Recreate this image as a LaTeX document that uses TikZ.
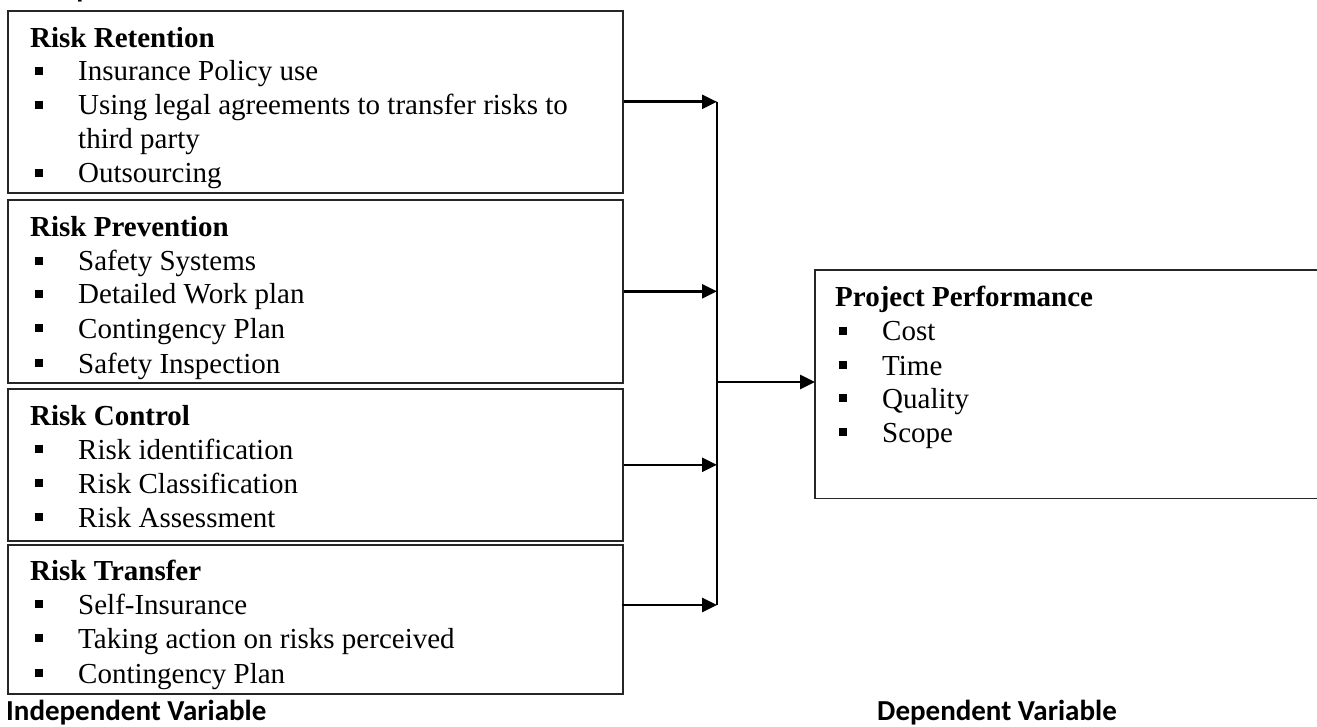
\documentclass[tikz,border=0pt]{standalone}
\usepackage{fontspec}
\setmainfont{Liberation Serif}
\newfontfamily\calib{Carlito}
\usetikzlibrary{arrows.meta}
\newcommand\sqbul{\makebox[44pt][l]{\hspace{1pt}\rule[6pt]{8pt}{8pt}}}
\begin{document}
\begin{tikzpicture}[x=1pt,y=-1pt,
  box/.style={draw=black!85, line width=1.6pt, inner sep=0pt, anchor=north west},
  conn/.style={line width=2.6pt},
  arr/.style={conn,-{Triangle[length=15pt,width=14pt]}},
  hd/.style={anchor=base west, inner sep=0pt, font=\fontsize{29}{34}\selectfont\bfseries},
  itm/.style={anchor=base west, inner sep=0pt, font=\fontsize{29}{34}\selectfont},
  lab/.style={anchor=base west, inner sep=0pt, font=\fontsize{29}{34}\selectfont\calib\bfseries}
]
\useasboundingbox (0,0) rectangle (1317,727);
% title (cut off at top)
\node[lab] (title) at (3,-2) {Conceptual Framework};
% boxes
\node[box, minimum width=615pt, minimum height=182pt] (B1) at (7,10) {};
\node[box, minimum width=615pt, minimum height=183pt] (B2) at (7,199) {};
\node[box, minimum width=615pt, minimum height=152pt] (B3) at (7,388) {};
\node[box, minimum width=615pt, minimum height=149pt] (B4) at (7,544) {};
% box 1
\begin{scope}
\clip (B1.north west) rectangle (B1.south east);
\node[hd] (h1) at (30,48) {Risk Retention};
\node[itm] (i11) at (34,81) {\sqbul Insurance Policy use};
\node[itm] (i12) at (34,115) {\sqbul Using legal agreements to transfer risks to};
\node[itm] (i13) at (78,149) {third party};
\node[itm] (i14) at (34,183) {\sqbul Outsourcing};
\end{scope}
% box 2
\begin{scope}
\clip (B2.north west) rectangle (B2.south east);
\node[hd] (h2) at (30,237) {Risk Prevention};
\node[itm] (i21) at (34,271) {\sqbul Safety Systems};
\node[itm] (i22) at (34,304) {\sqbul Detailed Work plan};
\node[itm] (i23) at (34,338) {\sqbul Contingency Plan};
\node[itm] (i24) at (34,373) {\sqbul Safety Inspection};
\end{scope}
% box 3
\begin{scope}
\clip (B3.north west) rectangle (B3.south east);
\node[hd] (h3) at (30,425) {Risk Control};
\node[itm] (i31) at (34,459) {\sqbul Risk identification};
\node[itm] (i32) at (34,493) {\sqbul Risk Classification};
\node[itm] (i33) at (34,527) {\sqbul Risk Assessment};
\end{scope}
% box 4
\begin{scope}
\clip (B4.north west) rectangle (B4.south east);
\node[hd] (h4) at (30,580) {Risk Transfer};
\node[itm] (i41) at (34,614) {\sqbul Self-Insurance};
\node[itm] (i42) at (34,648) {\sqbul Taking action on risks perceived};
\node[itm] (i43) at (34,683) {\sqbul Contingency Plan};
\end{scope}
% dependent box (right side runs off the page)
\node[inner sep=0pt, anchor=north west, minimum width=510pt, minimum height=228pt] (P) at (815,270) {};
\draw[draw=black!85, line width=1.6pt] (P.north east) -- (P.north west) -- (P.south west) -- (P.south east);
\node[hd] (hp) at (835,307) {Project Performance};
\node[itm] (p1) at (838,341) {\sqbul Cost};
\node[itm] (p2) at (838,375) {\sqbul Time};
\node[itm] (p3) at (838,408) {\sqbul Quality};
\node[itm] (p4) at (838,442) {\sqbul Scope};
% connectors
\coordinate (bus) at (717,382);
\coordinate (a4) at (622,605);
\draw[arr] (B1.east) -- (B1.east -| bus);
\draw[arr] (B2.east) -- (B2.east -| bus);
\draw[arr] (B3.east) -- (B3.east -| bus);
\draw[arr] (a4) -- (a4 -| bus);
\draw[line width=1.8pt] (B1.east -| bus) -- (a4 -| bus);
\draw[arr] (bus) -- (P.west |- bus);
% labels
\node[lab] (iv) at (6,720) {Independent Variable};
\node[lab, anchor=base east] (dv) at (1117,720) {Dependent Variable};
\end{tikzpicture}
\end{document}
